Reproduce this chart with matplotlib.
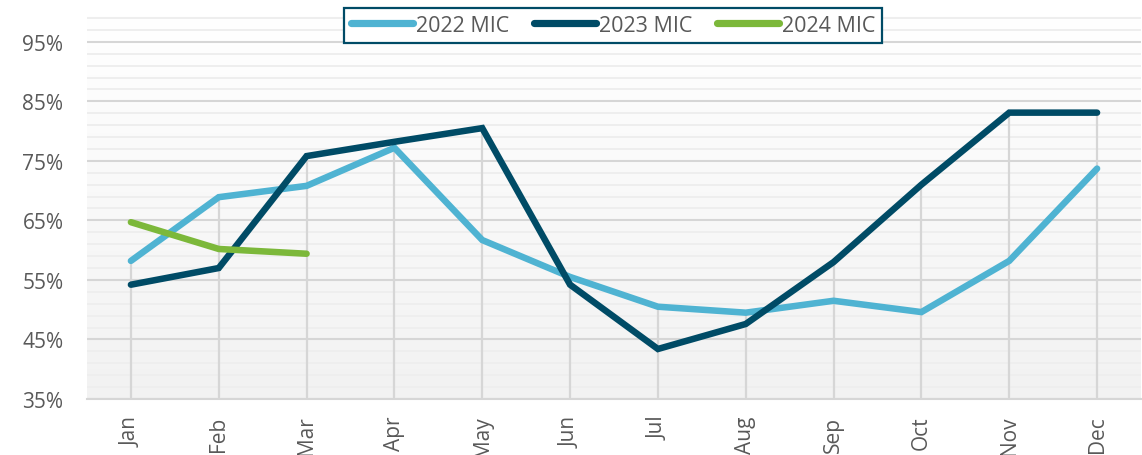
import matplotlib
matplotlib.use("Agg")
import matplotlib.pyplot as plt
import numpy as np
from matplotlib.colors import LinearSegmentedColormap

months = ["Jan", "Feb", "Mar", "Apr", "May", "Jun", "Jul", "Aug", "Sep", "Oct", "Nov", "Dec"]
mic_2022 = [58.2, 68.9, 70.8, 77.2, 61.7, 55.5, 50.5, 49.5, 51.5, 49.6, 58.2, 73.7]
mic_2023 = [54.2, 57.0, 75.8, 78.2, 80.5, 54.2, 43.4, 47.6, 58.0, 71.0, 83.1, 83.1]
mic_2024 = [64.7, 60.2, 59.4]
series_labels = ["2022 MIC", "2023 MIC", "2024 MIC"]
y_ticks = [35, 45, 55, 65, 75, 85, 95]

plt.rcParams['font.family'] = ['Open Sans', 'DejaVu Sans']
c2022, c2023, c2024 = "#4fb3d2", "#004b66", "#7cb83a"
txt = "#595959"

fig = plt.figure(figsize=(11.42, 4.56), dpi=100)
ax = fig.add_axes([87/1142, 1-400/456, 1054/1142, 384/456])
ymin, ymax = 35, 99.5
ax.set_xlim(-0.5, 11.5)
ax.set_ylim(ymin, ymax)

# gradient background: white at top, light gray at bottom
cmap = LinearSegmentedColormap.from_list("bg", ["#ffffff", "#f2f2f2"])
grad = np.linspace(1, 0, 256).reshape(-1, 1)
ax.imshow(grad, aspect="auto", cmap=cmap, extent=[-0.5, 11.5, ymin, ymax],
          origin="lower", zorder=0, interpolation="bilinear")

# gridlines
for v in np.arange(37, 100, 2):
    if (v - 35) % 10 != 0:
        ax.axhline(v, color="#eeeeee", lw=1.4, zorder=1)
for v in y_ticks:
    ax.axhline(v, color="#d6d6d6", lw=1.5, zorder=1)

x = np.arange(len(months))
# drop lines
tops = [max(a, b) for a, b in zip(mic_2022, mic_2023)]
ax.vlines(x, ymin, tops, color="#d6d6d6", lw=1.6, zorder=1.5)

lw = 4.7
ax.plot(x, mic_2022, color=c2022, lw=lw, solid_capstyle="round", solid_joinstyle="miter", zorder=3, label=series_labels[0])
ax.plot(x, mic_2023, color=c2023, lw=lw, solid_capstyle="round", solid_joinstyle="miter", zorder=4, label=series_labels[1])
ax.plot(x[:len(mic_2024)], mic_2024, color=c2024, lw=lw, solid_capstyle="round", solid_joinstyle="miter", zorder=5, label=series_labels[2])

for s in ["top", "right", "left"]:
    ax.spines[s].set_visible(False)
ax.spines["bottom"].set_color("#d6d6d6")
ax.spines["bottom"].set_linewidth(1.5)

ax.set_xticks(x)
ax.set_xticklabels(months, rotation=90, fontsize=15, color=txt)
ax.set_yticks(y_ticks)
ax.set_yticklabels([f"{v}%" for v in y_ticks], fontsize=15, color=txt)
ax.tick_params(axis="both", length=0)
ax.tick_params(axis="y", pad=17)
ax.tick_params(axis="x", pad=12)

leg = fig.legend(loc="upper center", bbox_to_anchor=(613/1142, 1-9/456), ncol=3,
                 frameon=True, fancybox=False, fontsize=15.5, handlelength=2.9,
                 handletextpad=0.12, columnspacing=1.15, borderpad=0.32,
                 borderaxespad=0)
fr = leg.get_frame()
fr.set_edgecolor(c2023)
fr.set_linewidth(1.6)
fr.set_alpha(1)
for t in leg.get_texts():
    t.set_color(txt)
for h in leg.get_lines():
    h.set_linewidth(5.2)
    h.set_solid_capstyle("round")

fig.savefig("out.png", dpi=100)
